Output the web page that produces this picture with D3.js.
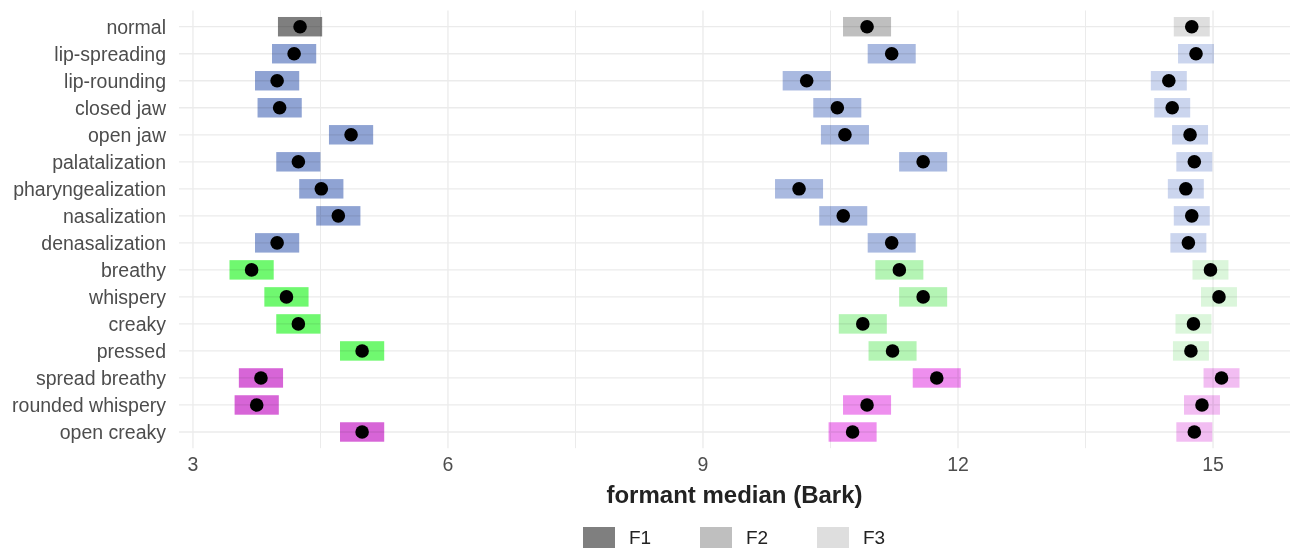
<!DOCTYPE html>
<html>
<head>
<meta charset="utf-8">
<script src="https://cdn.jsdelivr.net/npm/d3@7"></script>
<style>
  body { margin: 0; background: #fff; }
  svg { font-family: "Liberation Sans", Arial, sans-serif; }
</style>
</head>
<body>
<div id="chart"></div>
<script>
// voice qualities, top to bottom
const categories = ["normal", "lip-spreading", "lip-rounding", "closed jaw", "open jaw",
    "palatalization", "pharyngealization", "nasalization", "denasalization",
    "breathy", "whispery", "creaky", "pressed",
    "spread breathy", "rounded whispery", "open creaky"];

const groups = ["neutral", "articulatory", "articulatory", "articulatory", "articulatory",
    "articulatory", "articulatory", "articulatory", "articulatory",
    "phonation", "phonation", "phonation", "phonation",
    "combined", "combined", "combined"];

// formant medians (Bark)
const f1 = [4.26, 4.19, 3.99, 4.02, 4.86, 4.24, 4.51, 4.71, 3.99, 3.69, 4.10, 4.24, 4.99, 3.80, 3.75, 4.99];
const f2 = [10.93, 11.22, 10.22, 10.58, 10.67, 11.59, 10.13, 10.65, 11.22, 11.31, 11.59, 10.88, 11.23, 11.75, 10.93, 10.76];
const f3 = [14.75, 14.80, 14.48, 14.52, 14.73, 14.78, 14.68, 14.75, 14.71, 14.97, 15.07, 14.77, 14.74, 15.10, 14.87, 14.78];

const formants = ["F1", "F2", "F3"];
// tile width per formant (Bark)
const tileWidth = [0.52, 0.565, 0.423];
const xTicks = [3, 6, 9, 12, 15];

const width = 1295, height = 548;
const panel = { left: 179, right: 1290, top: 10.5, bottom: 448.2 };

const colors = {
    neutral:      ["#7f7f7f", "#bfbfbf", "#dedede"],
    articulatory: ["#8fa3d3", "#a9b9e0", "#cbd5ee"],
    phonation:    ["#70f870", "#b4f4b4", "#dbf6db"],
    combined:     ["#d765d7", "#ee8fee", "#f2bdf2"]
};

// long format rows
const rows = [];
[f1, f2, f3].forEach((vals, fi) => {
    vals.forEach((v, i) => {
        rows.push({ cat: categories[i], group: groups[i], formant: fi, med: v,
            lo: v - tileWidth[fi] / 2, hi: v + tileWidth[fi] / 2 });
    });
});

const svg = d3.select("#chart")
    .append("svg")
    .attr("width", width)
    .attr("height", height);

// ggplot style 5% expansion
let minX = d3.min(rows, d => d.lo);
let maxX = d3.max(rows, d => d.hi);
let pad = (maxX - minX) * 0.05;

let xScale = d3.scaleLinear()
    .domain([minX - pad, maxX + pad])
    .range([panel.left, panel.right]);

let yScale = d3.scalePoint()
    .domain(categories)
    .range([panel.top, panel.bottom])
    .padding(0.6);

const step = yScale.step();

// grid
const minorTicks = xTicks.slice(0, -1).map(t => t + 1.5);
svg.append("g")
    .selectAll("line")
    .data(minorTicks)
    .enter()
    .append("line")
    .attr("x1", d => xScale(d)).attr("x2", d => xScale(d))
    .attr("y1", panel.top).attr("y2", panel.bottom)
    .attr("stroke", "#ebebeb")
    .attr("stroke-width", 1);

svg.append("g")
    .selectAll("line")
    .data(xTicks)
    .enter()
    .append("line")
    .attr("x1", d => xScale(d)).attr("x2", d => xScale(d))
    .attr("y1", panel.top).attr("y2", panel.bottom)
    .attr("stroke", "#ebebeb")
    .attr("stroke-width", 1.3);

svg.append("g")
    .selectAll("line")
    .data(categories)
    .enter()
    .append("line")
    .attr("x1", panel.left).attr("x2", panel.right)
    .attr("y1", d => yScale(d)).attr("y2", d => yScale(d))
    .attr("stroke", "#ebebeb")
    .attr("stroke-width", 1.3);

// tiles
svg.append("g")
    .selectAll("rect")
    .data(rows)
    .enter()
    .append("rect")
    .attr("x", d => xScale(d.lo))
    .attr("width", d => xScale(d.hi) - xScale(d.lo))
    .attr("y", d => yScale(d.cat) - step * 0.36)
    .attr("height", step * 0.72)
    .attr("fill", d => colors[d.group][d.formant])
    .style("mix-blend-mode", "multiply");

// medians
svg.append("g")
    .selectAll("circle")
    .data(rows)
    .enter()
    .append("circle")
    .attr("cx", d => xScale(d.med))
    .attr("cy", d => yScale(d.cat))
    .attr("r", 6.8)
    .attr("fill", "#000");

// y labels
svg.append("g")
    .selectAll("text")
    .data(categories)
    .enter()
    .append("text")
    .attr("x", 166)
    .attr("y", d => yScale(d))
    .attr("dy", "0.36em")
    .attr("text-anchor", "end")
    .attr("font-size", "19.5px")
    .attr("fill", "#4d4d4d")
    .text(d => d);

// x labels
svg.append("g")
    .selectAll("text")
    .data(xTicks)
    .enter()
    .append("text")
    .attr("x", d => xScale(d))
    .attr("y", 470.5)
    .attr("text-anchor", "middle")
    .attr("font-size", "19.5px")
    .attr("fill", "#4d4d4d")
    .text(d => d);

svg.append("text")
    .attr("x", (panel.left + panel.right) / 2)
    .attr("y", 503)
    .attr("text-anchor", "middle")
    .attr("font-size", "24px")
    .attr("font-weight", "bold")
    .attr("fill", "#222")
    .text("formant median (Bark)");

// legend
const legendGrey = colors.neutral;
const legend = svg.append("g")
    .selectAll("g")
    .data(formants)
    .enter()
    .append("g")
    .attr("transform", (d, i) => `translate(${583 + i * 117}, 527)`);

legend.append("rect")
    .attr("width", 32)
    .attr("height", 21)
    .attr("fill", (d, i) => legendGrey[i]);

legend.append("text")
    .attr("x", 46)
    .attr("y", 17)
    .attr("font-size", "19px")
    .attr("fill", "#222")
    .text(d => d);
</script>
</body>
</html>
